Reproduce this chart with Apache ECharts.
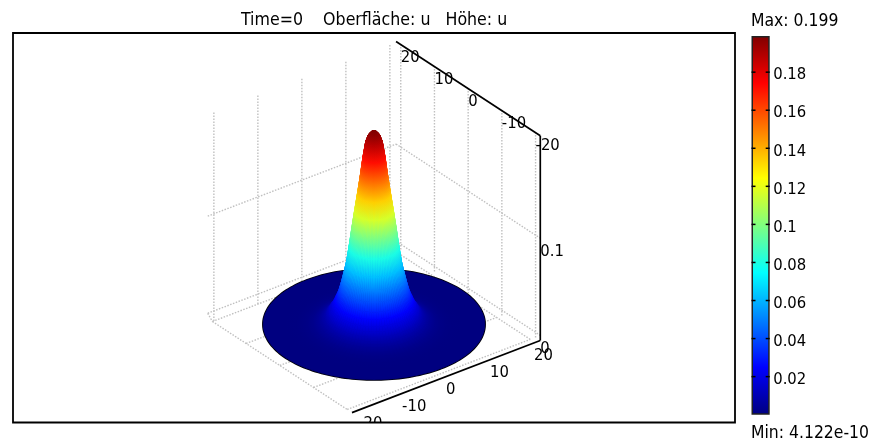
<!DOCTYPE html>
<html><head><meta charset="utf-8">
<style>html,body{margin:0;padding:0;background:#fff}#c{width:870px;height:441px}</style>
<script src="https://cdn.jsdelivr.net/npm/echarts@6/dist/echarts.min.js"></script>
</head><body><div id="c"></div>
<script>
// ---- data ----
const titleText = 'Time=0    Oberfläche: u   Höhe: u';
const maxText = 'Max: 0.199';
const minText = 'Min: 4.122e-10';
const uMax = 0.199;
// radial profile of u(r) on the disc
const profileR = [0,0.5,1,1.5,2,2.5,3,3.5,4,4.5,5,5.5,6,6.5,7,7.5,8,8.5,9,9.5,10,11,12,13,14,16,18,20];
const profileU = [0.199,0.198,0.195,0.188,0.172,0.152,0.134,0.117,0.099,0.080,0.063,0.051,0.040,0.031,0.025,0.019,0.015,0.011,0.008,0.006,0.0045,0.0024,0.0012,0.0005,0.0002,0.00003,0,0];
const xTicks = [-20,-10,0,10,20];
const yTicks = [20,10,0,-10,-20];
const zTicks = [0,0.1];
const colorTicks = [0.02,0.04,0.06,0.08,0.1,0.12,0.14,0.16,0.18];
const jetOffsets = [0,0.125,0.375,0.625,0.875,1];
const jetColors = [[0,0,128],[0,0,255],[0,255,255],[255,255,0],[255,0,0],[128,0,0]];

// ---- view of the 3D box ----
const FONT = '"DejaVu Sans Condensed","Noto Sans",sans-serif';
const FS = 16.5, TS = 17.4;
const view = {ox:374, oy:324.3, ux:4.4, uy:-1.685, vx:-3.37, vy:-2.2, s:971};
const B = 21.4, zMin = -0.0053, zTop = 0.2056, SEG = 96;
function proj(x,y,z){ return [view.ox+x*view.ux+y*view.vx, view.oy+x*view.uy+y*view.vy-z*view.s]; }
function jet(u){
  const t = Math.max(0,Math.min(1,u/uMax));
  let i = 0; while(i<jetOffsets.length-2 && t>jetOffsets[i+1]) i++;
  const f = (t-jetOffsets[i])/(jetOffsets[i+1]-jetOffsets[i]);
  const a = jetColors[i], b = jetColors[i+1];
  return 'rgb('+a.map((c,k)=>Math.round(c+(b[k]-c)*f)).join(',')+')';
}
const css = c => 'rgb('+c.join(',')+')';

// dotted grid segments [x0,y0,z0,x1,y1,z1]
const dotted = [];
xTicks.forEach(x=>dotted.push([x,B,zMin-0.005,x,B,zTop]));
yTicks.forEach(y=>dotted.push([B,y,zMin,B,y,zTop]));
zTicks.forEach(z=>{dotted.push([-B,B,z,B,B,z]);dotted.push([B,B,z,B,-B,z]);});
yTicks.forEach(y=>dotted.push([-B,y,zMin,20.2,y,zMin]));
dotted.push([-B,20,zMin,-B,-20,zMin]);
dotted.push([20.2,B,zMin,20.2,-20,zMin]);
dotted.push([-B,B,0,-B,20,zMin]);

// solid axis segments
const solid = [
  [-B,-B,zMin,B,-B,zMin],
  [B,-B,zMin,B,-B,zTop],
  [B,B,zTop,B,-B,zTop]
];
// tick labels
const labels = [];
xTicks.forEach(x=>labels.push([x,-B,zMin,String(x)]));
yTicks.forEach(y=>labels.push([B,y,zTop,String(y)]));
zTicks.forEach(z=>labels.push([B,-B,z,String(z)]));

// surface cells, far to near
const cells = [];
for(let i=0;i<profileR.length-1;i++) for(let j=0;j<SEG;j++){
  const t0=j/SEG*2*Math.PI, t1=(j+1)/SEG*2*Math.PI, tm=(t0+t1)/2, rm=(profileR[i]+profileR[i+1])/2;
  cells.push({i,t0,t1,tm,d:rm*Math.cos(tm)*view.uy+rm*Math.sin(tm)*view.vy});
}
cells.sort((a,b)=>a.d-b.d);

function segItem(api,s,style){
  const a=api.coord(proj(s[0],s[1],s[2])), b=api.coord(proj(s[3],s[4],s[5]));
  return {type:'line',shape:{x1:a[0],y1:a[1],x2:b[0],y2:b[1]},style};
}
const screenGrid = {left:13,top:33,width:722,height:389.5,show:true,borderColor:'#000',borderWidth:1.8,backgroundColor:'#fff'};
const base = {type:'custom',coordinateSystem:'cartesian2d',xAxisIndex:0,yAxisIndex:0,clip:true,animation:false,silent:true,progressive:0};
const textStyle = {fontFamily:FONT,fontSize:TS,fontWeight:'normal',color:'#000'};

const option = {
  animation:false,
  backgroundColor:'#fff',
  title:[
    {text:titleText,left:241,top:11,padding:0,textStyle:{...textStyle,fontSize:17.6}},
    {text:maxText,left:751,top:12.5,padding:0,textStyle},
    {text:minText,left:751,top:425,padding:0,textStyle}
  ],
  grid:[screenGrid,{left:751.5,top:36,width:18.2,height:378.7}],
  xAxis:[
    {type:'value',gridIndex:0,min:13,max:735,show:false},
    {type:'category',gridIndex:1,data:['u'],show:false}
  ],
  yAxis:[
    {type:'value',gridIndex:0,min:33,max:422.5,inverse:true,show:false},
    {type:'value',gridIndex:1,min:0,max:uMax,position:'right',
     axisLine:{show:false},splitLine:{show:false},axisTick:{show:false},
     axisLabel:{show:true,margin:3.5,color:'#000',fontFamily:FONT,fontSize:FS,verticalAlign:'top',lineHeight:6,customValues:colorTicks}}
  ],
  series:[
    {...base,z:2,data:dotted,renderItem:(p,api)=>segItem(api,dotted[p.dataIndex],{stroke:'#c0c0c0',lineWidth:1.4,lineDash:[1.5,1.5]})},
    {...base,z:3,data:[0],renderItem:(p,api)=>{
      const pts=[];for(let j=0;j<SEG*2;j++){const t=j/(SEG*2)*2*Math.PI;pts.push(api.coord(proj(20*Math.cos(t),20*Math.sin(t),0)));}
      return {type:'polygon',shape:{points:pts},style:{fill:css(jetColors[0]),stroke:'#000',lineWidth:2.2}};
    }},
    {...base,z:4,data:cells.map((c,k)=>k),renderItem:(p,api)=>{
      const c=cells[p.dataIndex], r0=profileR[c.i], r1=profileR[c.i+1], u0=profileU[c.i], u1=profileU[c.i+1];
      const P=(r,t,u)=>api.coord(proj(r*Math.cos(t),r*Math.sin(t),u));
      const pts=[P(r0,c.t0,u0),P(r1,c.t0,u1),P(r1,c.t1,u1),P(r0,c.t1,u0)];
      const a=P(r0,c.tm,u0), b=P(r1,c.tm,u1);
      const g={type:'linear',x:a[0],y:a[1],x2:b[0],y2:b[1],global:true,colorStops:[{offset:0,color:jet(u0)},{offset:1,color:jet(u1)}]};
      return {type:'polygon',shape:{points:pts},style:{fill:g,stroke:g,lineWidth:0.6}};
    }},
    {...base,z:5,data:solid,renderItem:(p,api)=>segItem(api,solid[p.dataIndex],{stroke:'#000',lineWidth:1.7})},
    {...base,z:6,data:labels.map((l,k)=>k),renderItem:(p,api)=>{
      const l=labels[p.dataIndex], q=api.coord(proj(l[0],l[1],l[2]));
      return {type:'text',style:{x:q[0],y:q[1]+13.2,text:l[3],fill:'#000',font:FS+'px '+FONT,align:'left',verticalAlign:'middle'}};
    }},
    {type:'bar',xAxisIndex:1,yAxisIndex:1,data:[uMax],barWidth:'100%',silent:true,animation:false,z:2,
     itemStyle:{borderColor:'#222',borderWidth:1.5,
       color:{type:'linear',x:0,y:1,x2:0,y2:0,colorStops:jetOffsets.map((o,k)=>({offset:o,color:css(jetColors[k])}))}}},
    {type:'custom',coordinateSystem:'cartesian2d',xAxisIndex:1,yAxisIndex:1,z:9,silent:true,animation:false,
     data:colorTicks.map(v=>[0,v]),
     renderItem:(p,api)=>{
       const y=api.coord([0,api.value(1)])[1], l=p.coordSys.x, r=l+p.coordSys.width, st={stroke:'#000',lineWidth:1.5};
       return {type:'group',children:[
         {type:'line',shape:{x1:l,y1:y,x2:l+4,y2:y},style:st},
         {type:'line',shape:{x1:r-4,y1:y,x2:r,y2:y},style:st}
       ]};
     }}
  ]
};
echarts.init(document.getElementById('c'),null,{renderer:'canvas'}).setOption(option);
</script></body></html>
